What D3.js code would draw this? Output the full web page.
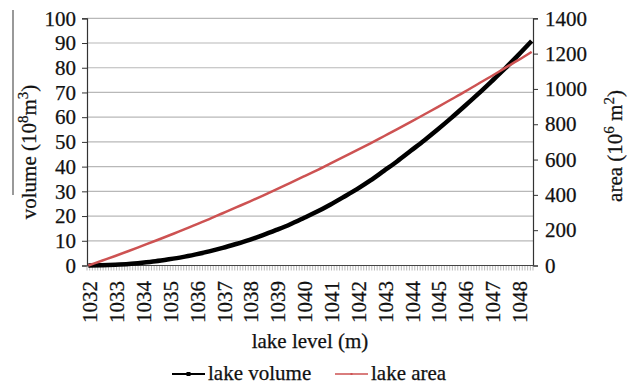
<!DOCTYPE html>
<html>
<head>
<meta charset="utf-8">
<script src="https://cdn.jsdelivr.net/npm/d3@7"></script>
<style>
  body { margin: 0; background: #fff; }
  text { font-family: "Liberation Serif", "Times New Roman", serif; fill: #111; stroke: #111; stroke-width: 0.25px; }
</style>
</head>
<body>
<div id="chart"></div>
<script>
// lake level (m), read every 0.5 m
var levels = [1032, 1032.5, 1033, 1033.5, 1034, 1034.5, 1035, 1035.5, 1036, 1036.5,
    1037, 1037.5, 1038, 1038.5, 1039, 1039.5, 1040, 1040.5, 1041, 1041.5,
    1042, 1042.5, 1043, 1043.5, 1044, 1044.5, 1045, 1045.5, 1046, 1046.5,
    1047, 1047.5, 1048, 1048.5];
// volume (10^8 m3)
var volume = [0, 0.1, 0.3, 0.6, 1.1, 1.7, 2.5, 3.4, 4.5, 5.7,
    7.1, 8.7, 10.4, 12.3, 14.4, 16.6, 19.1, 21.7, 24.6, 27.7,
    30.9, 34.4, 38.3, 42.2, 46.4, 50.6, 55.0, 59.6, 64.4, 69.3,
    74.4, 79.6, 85.1, 90.8];
// area (10^6 m2)
var area = [0, 27, 54, 82, 111, 140, 170, 200, 232, 263,
    296, 329, 362, 396, 431, 467, 503, 539, 577, 615,
    653, 692, 732, 772, 813, 855, 897, 940, 983, 1028,
    1072, 1118, 1163, 1210];

var xTickLabels = [1032, 1033, 1034, 1035, 1036, 1037, 1038, 1039, 1040,
    1041, 1042, 1043, 1044, 1045, 1046, 1047, 1048];
var leftTicks = [0, 10, 20, 30, 40, 50, 60, 70, 80, 90, 100];
var rightTicks = [0, 200, 400, 600, 800, 1000, 1200, 1400];

var width = 634, height = 384;
var plot = { left: 87, right: 533, top: 18.3, bottom: 265.5 };
var serif = '"Liberation Serif", "Times New Roman", serif';
var fs = 21;

var svg = d3.select("#chart")
    .append("svg")
    .attr("width", width)
    .attr("height", height);

var x = d3.scaleLinear()
    .domain([1031.95, 1048.55])
    .range([plot.left, plot.right]);

var yL = d3.scaleLinear()
    .domain([0, 100])
    .range([plot.bottom, plot.top]);

var yR = d3.scaleLinear()
    .domain([0, 1400])
    .range([plot.bottom, plot.top]);

// stray rule on the far left of the scan
svg.append("line")
    .attr("x1", 13).attr("x2", 13)
    .attr("y1", 10).attr("y2", 195)
    .attr("stroke", "#777")
    .attr("stroke-width", 1.5);

// gridlines
svg.append("g")
    .selectAll("line")
    .data(leftTicks.slice(1))
    .enter()
    .append("line")
    .attr("x1", plot.left)
    .attr("x2", plot.right)
    .attr("y1", function (d) { return yL(d); })
    .attr("y2", function (d) { return yL(d); })
    .attr("stroke", "#b8b8b8")
    .attr("stroke-width", 1.2);

// left axis
var leftAxis = svg.append("g")
    .attr("transform", "translate(" + plot.left + ",0)")
    .call(d3.axisLeft(yL).tickValues(leftTicks).tickSize(5).tickPadding(6));

// right axis
var rightAxis = svg.append("g")
    .attr("transform", "translate(" + plot.right + ",0)")
    .call(d3.axisRight(yR).tickValues(rightTicks).tickFormat(d3.format("d")).tickSize(5).tickPadding(7));

[leftAxis, rightAxis].forEach(function (a) {
    a.attr("font-family", serif).attr("font-size", fs);
    a.selectAll("text").attr("fill", "#111");
});

svg.selectAll(".domain").attr("stroke", "#333").attr("stroke-width", 1.2);
svg.selectAll(".tick line").attr("stroke", "#333");

// bottom axis: one small tick per 0.1 m category
var minorTicks = d3.range(0, 167).map(function (i) { return 1031.95 + i * 0.1; });
svg.append("g")
    .selectAll("line")
    .data(minorTicks)
    .enter()
    .append("line")
    .attr("x1", function (d) { return x(d); })
    .attr("x2", function (d) { return x(d); })
    .attr("y1", plot.bottom)
    .attr("y2", plot.bottom + 5)
    .attr("stroke", "#999")
    .attr("stroke-width", 0.7);

svg.append("line")
    .attr("x1", plot.left).attr("x2", plot.right)
    .attr("y1", plot.bottom).attr("y2", plot.bottom)
    .attr("stroke", "#444")
    .attr("stroke-width", 1.2);

svg.append("g")
    .selectAll("text")
    .data(xTickLabels)
    .enter()
    .append("text")
    .attr("transform", function (d) { return "translate(" + (x(d) + 1.5) + ",281) rotate(-90)"; })
    .attr("text-anchor", "end")
    .attr("dy", "0.35em")
    .style("font-size", fs + "px")
    .text(function (d) { return d; });

// lines
var line = d3.line().curve(d3.curveMonotoneX);

svg.append("path")
    .attr("d", line(levels.map(function (d, i) { return [x(d), yL(volume[i])]; })))
    .attr("fill", "none")
    .attr("stroke", "#000")
    .attr("stroke-width", 4.5);

svg.append("path")
    .attr("d", line(levels.map(function (d, i) { return [x(d), yR(area[i])]; })))
    .attr("fill", "none")
    .attr("stroke", "#cd5252")
    .attr("stroke-width", 2.5);

// axis titles
var lt = svg.append("text")
    .attr("transform", "translate(36,152) rotate(-90)")
    .attr("text-anchor", "middle")
    .style("font-size", fs + "px");
lt.append("tspan").text("volume (10");
lt.append("tspan").attr("dy", -8).style("font-size", "15px").text("8");
lt.append("tspan").attr("dy", 8).text("m");
lt.append("tspan").attr("dy", -8).style("font-size", "15px").text("3");
lt.append("tspan").attr("dy", 8).text(")");

var rt = svg.append("text")
    .attr("transform", "translate(622,146) rotate(-90)")
    .attr("text-anchor", "middle")
    .style("font-size", fs + "px");
rt.append("tspan").text("area (10");
rt.append("tspan").attr("dy", -8).style("font-size", "15px").text("6");
rt.append("tspan").attr("dy", 8).text(" m");
rt.append("tspan").attr("dy", -8).style("font-size", "15px").text("2");
rt.append("tspan").attr("dy", 8).text(")");

svg.append("text")
    .attr("x", 310)
    .attr("y", 348)
    .attr("text-anchor", "middle")
    .style("font-size", fs + "px")
    .text("lake level (m)");

// legend
var legend = [
    { name: "lake volume", color: "#000", x: 172, w: 2, m: 4 },
    { name: "lake area", color: "#cd5252", x: 335, w: 1.5, m: 2 }
];
var lg = svg.append("g")
    .selectAll("g")
    .data(legend)
    .enter()
    .append("g");
lg.append("line")
    .attr("x1", function (d) { return d.x; })
    .attr("x2", function (d) { return d.x + 33; })
    .attr("y1", 374).attr("y2", 374)
    .attr("stroke", function (d) { return d.color; })
    .attr("stroke-width", function (d) { return d.w; });
lg.append("rect")
    .attr("x", function (d) { return d.x + 16.5 - d.m / 2; })
    .attr("y", function (d) { return 374 - d.m / 2; })
    .attr("width", function (d) { return d.m; })
    .attr("height", function (d) { return d.m; })
    .attr("fill", function (d) { return d.color; });
lg.append("text")
    .attr("x", function (d) { return d.x + 36; })
    .attr("y", 380)
    .style("font-size", fs + "px")
    .text(function (d) { return d.name; });
</script>
</body>
</html>
